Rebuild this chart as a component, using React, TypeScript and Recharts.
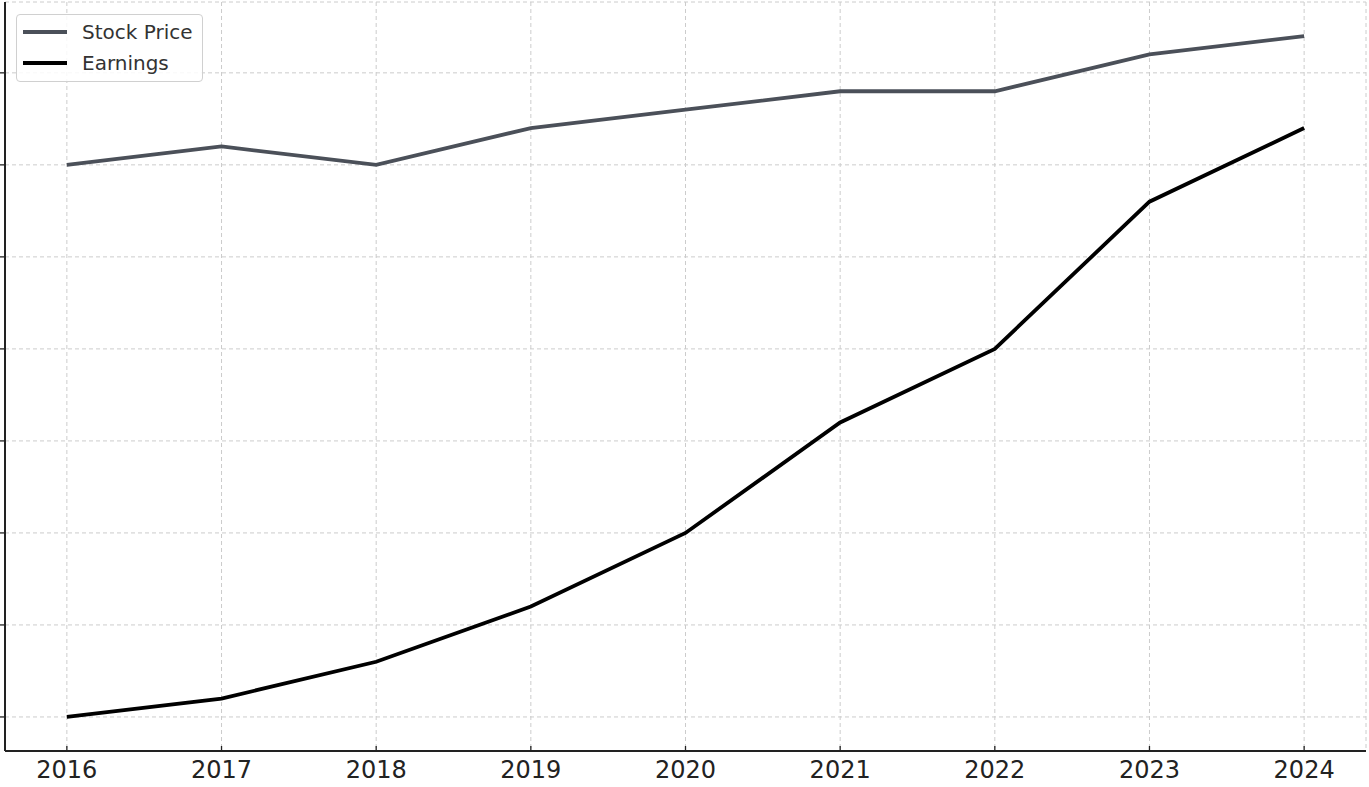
import { LineChart, Line, XAxis, YAxis, CartesianGrid } from 'recharts'

const years = [2016, 2017, 2018, 2019, 2020, 2021, 2022, 2023, 2024]
const stockPrice = [60, 62, 60, 64, 66, 68, 68, 72, 74]
const earnings = [0, 2, 6, 12, 20, 32, 40, 56, 64]
const yTicks = [0, 10, 20, 30, 40, 50, 60, 70]

const STOCK_COLOR = '#4b5059'
const EARN_COLOR = '#000000'
const FONT = '"DejaVu Sans", sans-serif'

const data = years.map((year, i) => ({
    year,
    stock: stockPrice[i],
    earnings: earnings[i]
}))

// x ticks point inward (up into the plot), labels sit below the axis
const XTick = (props: any) => {
    const { x, y, payload } = props
    return (
        <g>
            <line x1={x} x2={x} y1={y} y2={y - 5} stroke="#222" strokeWidth={1.3} />
            <text x={x} y={y + 27} textAnchor="middle" fontSize={24} fill="#222" fontFamily={FONT}>
                {payload.value}
            </text>
        </g>
    )
}

const LegendBox = () => {
    const items = [
        { label: 'Stock Price', color: STOCK_COLOR },
        { label: 'Earnings', color: EARN_COLOR }
    ]
    return (
        <div
            style={{
                position: 'absolute',
                left: 16,
                top: 14,
                width: 187,
                height: 68,
                boxSizing: 'border-box',
                border: '1px solid #d0d0d0',
                borderRadius: 4,
                background: 'rgba(255,255,255,0.85)',
                padding: '1px 0 0 5px'
            }}
        >
            {items.map(item => (
                <div key={item.label} style={{ display: 'flex', alignItems: 'center', height: 31 }}>
                    <svg width={46} height={8} style={{ marginRight: 14 }}>
                        <line x1={1} x2={45} y1={4} y2={4} stroke={item.color} strokeWidth={3.8} />
                    </svg>
                    <span style={{ fontFamily: FONT, fontSize: 20, color: '#333' }}>{item.label}</span>
                </div>
            ))}
        </div>
    )
}

export default function App() {
    return (
        <div style={{ position: 'absolute', left: 0, top: 0, width: 1369, height: 787, background: '#fff' }}>
            <LineChart width={1369} height={787} data={data} margin={{ top: 2, right: 3, bottom: 0, left: 0 }}>
                <CartesianGrid stroke="#cccccc" strokeDasharray="4 3" strokeWidth={1} />
                <XAxis
                    dataKey="year"
                    type="number"
                    domain={[2015.6, 2024.4]}
                    ticks={years}
                    height={36}
                    tick={<XTick />}
                    tickLine={false}
                    tickSize={0}
                    tickMargin={0}
                    axisLine={{ stroke: '#222', strokeWidth: 2 }}
                    allowDataOverflow
                />
                <YAxis
                    type="number"
                    domain={[-3.7, 77.7]}
                    ticks={yTicks}
                    width={5}
                    tickSize={5}
                    tickMargin={0}
                    tickFormatter={() => ''}
                    tickLine={{ stroke: '#222', strokeWidth: 1.3 }}
                    axisLine={{ stroke: '#222', strokeWidth: 2 }}
                    allowDataOverflow
                />
                <Line
                    dataKey="stock"
                    name="Stock Price"
                    stroke={STOCK_COLOR}
                    strokeWidth={3.8}
                    dot={false}
                    isAnimationActive={false}
                />
                <Line
                    dataKey="earnings"
                    name="Earnings"
                    stroke={EARN_COLOR}
                    strokeWidth={3.8}
                    dot={false}
                    isAnimationActive={false}
                />
            </LineChart>
            <LegendBox />
        </div>
    )
}
